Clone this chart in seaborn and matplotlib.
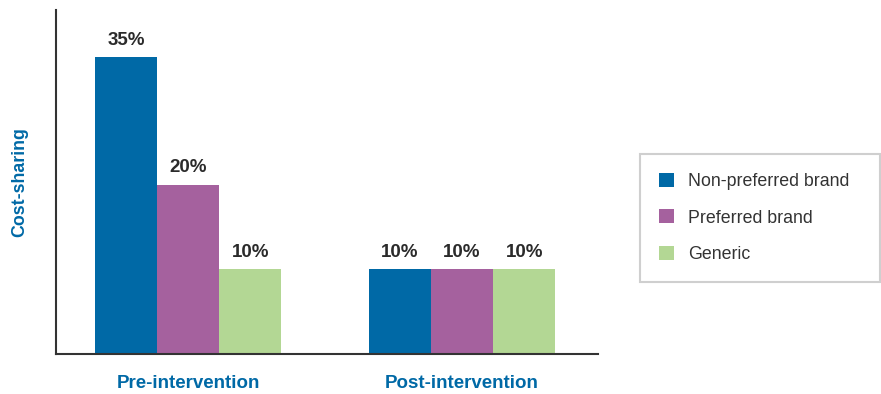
import matplotlib
matplotlib.use("Agg")
import matplotlib.pyplot as plt
import seaborn as sns
import pandas as pd

# Cost-sharing by drug tier, before and after the intervention
periods = ["Pre-intervention", "Post-intervention"]
tiers = ["Non-preferred brand", "Preferred brand", "Generic"]
pre_values = [35, 20, 10]
post_values = [10, 10, 10]
tier_colors = ["#0069A6", "#A5619E", "#B3D794"]

rows = []
for period, vals in zip(periods, [pre_values, post_values]):
    for tier, v in zip(tiers, vals):
        rows.append({"period": period, "tier": tier, "share": v})
df = pd.DataFrame(rows)

sns.set_theme(style="white")
plt.rcParams["font.family"] = ["Liberation Sans", "DejaVu Sans"]

fig = plt.figure(figsize=(8.81, 3.94), dpi=100)
ax = fig.add_axes([0.0636, 0.1015, 0.6152, 0.8731])

sns.barplot(data=df, x="period", y="share", hue="tier", order=periods,
            hue_order=tiers, palette=tier_colors, width=0.68, saturation=1,
            gap=0, linewidth=0, ax=ax, legend=True)

for container in ax.containers:
    ax.bar_label(container, labels=[f"{v:.0f}%" for v in container.datavalues],
                 padding=6, fontsize=13.5, fontweight="bold", color="#2b2b2b")

ax.set_ylim(0, 40.6)
ax.set_xlim(-0.482, 1.496)
ax.set_yticks([])
ax.set_xlabel("")
ax.set_ylabel("Cost-sharing", fontsize=12.8, fontweight="bold",
              color="#0069A6", labelpad=20)
ax.tick_params(axis="x", length=0, pad=15)
for lbl in ax.get_xticklabels():
    lbl.set_fontsize(13.5)
    lbl.set_fontweight("bold")
    lbl.set_color("#0069A6")

for side in ["top", "right"]:
    ax.spines[side].set_visible(False)
for side in ["left", "bottom"]:
    ax.spines[side].set_color("#333333")
    ax.spines[side].set_linewidth(1.5)

handles, labels = ax.get_legend_handles_labels()
ax.get_legend().remove()
leg = fig.legend(handles, labels, loc="center left",
                 bbox_to_anchor=(0.7265, 0.4467, 0.272, 0.0),
                 mode="expand", fontsize=12.8, frameon=True, fancybox=False,
                 handlelength=0.84, handleheight=0.84, handletextpad=0.8,
                 labelspacing=1.08, borderpad=1.07, borderaxespad=0)
leg.get_frame().set_edgecolor("#c4c4c4")
leg.get_frame().set_linewidth(1.5)
for t in leg.get_texts():
    t.set_color("#333333")

fig.savefig("out.png", dpi=100)
